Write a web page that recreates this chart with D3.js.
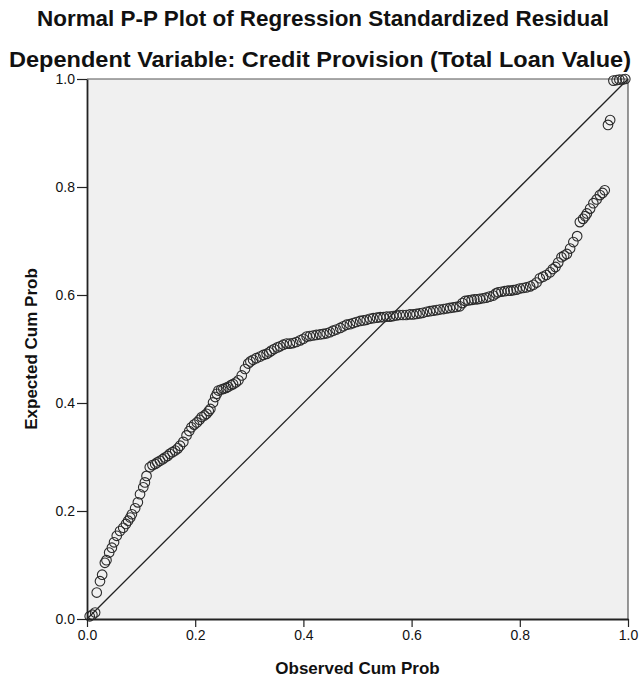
<!DOCTYPE html>
<html>
<head>
<meta charset="utf-8">
<script src="https://cdn.jsdelivr.net/npm/d3@7"></script>
<style>
  body { margin: 0; background: #fff; }
  text { font-family: "Liberation Sans", Arial, sans-serif; fill: #111; }
</style>
</head>
<body>
<div id="pp"></div>
<script>
// Titles
var titleMain = "Normal P-P Plot of Regression Standardized Residual";
var titleSub = "Dependent Variable: Credit Provision (Total Loan Value)";
var xTitle = "Observed Cum Prob";
var yTitle = "Expected Cum Prob";
var tickValues = [0, 0.2, 0.4, 0.6, 0.8, 1.0];

// Observed cum prob (x) and expected cum prob (y)
var observed = [0.005,0.010,0.015,0.018,0.024,0.028,0.033,0.036,0.041,0.046,0.050,0.055,0.061,0.067,0.072,0.076,0.080,0.083,0.089,0.094,
  0.098,0.104,0.107,0.110,0.116,0.121,0.126,0.130,0.135,0.140,0.144,0.149,0.153,0.158,0.163,0.168,0.172,0.178,0.184,0.189,
  0.193,0.198,0.203,0.208,0.212,0.217,0.221,0.225,0.228,0.233,0.237,0.240,0.243,0.248,0.252,0.257,0.261,0.266,0.270,0.275,
  0.280,0.286,0.292,0.298,0.302,0.307,0.313,0.320,0.326,0.332,0.337,0.341,0.346,0.352,0.357,0.363,0.369,0.375,0.381,0.387,
  0.394,0.400,0.406,0.412,0.418,0.424,0.431,0.437,0.443,0.449,0.455,0.461,0.468,0.474,0.480,0.486,0.492,0.498,0.505,0.511,
  0.517,0.523,0.529,0.536,0.542,0.548,0.554,0.560,0.566,0.572,0.578,0.584,0.590,0.597,0.603,0.609,0.615,0.621,0.628,0.634,
  0.640,0.646,0.652,0.659,0.665,0.671,0.677,0.683,0.689,0.694,0.699,0.705,0.711,0.716,0.721,0.726,0.732,0.738,0.744,0.751,
  0.756,0.760,0.766,0.772,0.778,0.783,0.788,0.794,0.800,0.806,0.812,0.819,0.825,0.831,0.837,0.843,0.849,0.856,0.861,0.866,
  0.871,0.877,0.882,0.887,0.893,0.899,0.906,0.911,0.917,0.921,0.924,0.930,0.936,0.942,0.948,0.953,0.957,0.963,0.967,0.973,
  0.979,0.984,0.990,0.995];
var expected = [0.005,0.008,0.012,0.049,0.070,0.082,0.104,0.109,0.123,0.132,0.142,0.154,0.163,0.169,0.176,0.182,0.188,0.194,0.205,0.216,
  0.231,0.244,0.253,0.265,0.281,0.285,0.287,0.290,0.293,0.296,0.299,0.302,0.306,0.309,0.312,0.316,0.321,0.328,0.340,0.348,
  0.355,0.360,0.364,0.369,0.374,0.377,0.380,0.385,0.389,0.401,0.411,0.417,0.423,0.425,0.426,0.428,0.430,0.433,0.435,0.438,
  0.442,0.451,0.463,0.473,0.477,0.480,0.483,0.486,0.489,0.491,0.494,0.497,0.500,0.503,0.505,0.508,0.510,0.510,0.511,0.513,
  0.516,0.519,0.523,0.524,0.525,0.526,0.527,0.528,0.529,0.531,0.534,0.536,0.539,0.542,0.545,0.546,0.548,0.550,0.552,0.553,
  0.554,0.556,0.557,0.558,0.559,0.559,0.560,0.560,0.561,0.562,0.563,0.563,0.563,0.564,0.564,0.565,0.566,0.567,0.569,0.570,
  0.571,0.572,0.573,0.574,0.575,0.576,0.577,0.578,0.579,0.585,0.589,0.590,0.591,0.592,0.592,0.593,0.594,0.595,0.597,0.599,
  0.603,0.605,0.606,0.607,0.608,0.608,0.609,0.610,0.612,0.613,0.614,0.616,0.619,0.623,0.631,0.634,0.637,0.642,0.648,0.652,
  0.660,0.670,0.673,0.676,0.686,0.698,0.709,0.735,0.741,0.746,0.751,0.760,0.770,0.777,0.785,0.789,0.794,0.915,0.924,0.997,
  0.998,0.999,0.999,1.000];

var margin = {top: 79, right: 12, bottom: 67, left: 87},
    width = 640 - margin.left - margin.right,
    height = 686 - margin.top - margin.bottom;

var root = d3.select("#pp").append("svg")
    .attr("width", 640)
    .attr("height", 686);

root.append("text")
    .attr("x", 323).attr("y", 26)
    .attr("text-anchor", "middle")
    .attr("textLength", 572).attr("lengthAdjust", "spacingAndGlyphs")
    .style("font-size", "22px").style("font-weight", "bold")
    .text(titleMain);

root.append("text")
    .attr("x", 320).attr("y", 67)
    .attr("text-anchor", "middle")
    .attr("textLength", 622).attr("lengthAdjust", "spacingAndGlyphs")
    .style("font-size", "22px").style("font-weight", "bold")
    .text(titleSub);

var svg = root.append("g")
    .attr("transform", "translate(" + margin.left + "," + margin.top + ")");

var x = d3.scaleLinear().domain([0, 1]).range([0, width]);
var y = d3.scaleLinear().domain([0, 1]).range([height, 0]);

svg.append("rect")
    .attr("width", width).attr("height", height)
    .attr("fill", "#f0f0f0");

// frame: top and right
svg.append("path")
    .attr("d", "M0,0H" + width + "V" + height)
    .attr("fill", "none").attr("stroke", "#555").attr("stroke-width", 1.2);

// reference diagonal
svg.append("line")
    .attr("x1", x(0)).attr("y1", y(0))
    .attr("x2", x(1)).attr("y2", y(1))
    .attr("stroke", "#222").attr("stroke-width", 1.3);

svg.append("g")
  .selectAll("circle")
  .data(observed)
  .enter()
  .append("circle")
    .attr("cx", function(d) { return x(d); })
    .attr("cy", function(d, i) { return y(expected[i]); })
    .attr("r", 4.8)
    .attr("fill", "none")
    .attr("stroke", "#2a2a2a")
    .attr("stroke-width", 1.1);

var fmt = d3.format(".1f");

var xAxis = svg.append("g")
    .attr("transform", "translate(0," + height + ")")
    .call(d3.axisBottom(x).tickValues(tickValues).tickFormat(fmt).tickSize(8).tickSizeOuter(0).tickPadding(3));

var yAxis = svg.append("g")
    .call(d3.axisLeft(y).tickValues(tickValues).tickFormat(fmt).tickSize(10).tickSizeOuter(0).tickPadding(2));

[xAxis, yAxis].forEach(function(a) {
  a.select(".domain").attr("stroke", "#222").attr("stroke-width", 1.8);
  a.selectAll(".tick line").attr("stroke", "#222").attr("stroke-width", 1.2);
  a.selectAll(".tick text")
      .style("font-family", "'Liberation Sans', Arial, sans-serif")
      .style("font-size", "14px").attr("fill", "#222");
});

root.append("text")
    .attr("x", margin.left + width / 2).attr("y", 674)
    .attr("text-anchor", "middle")
    .style("font-size", "17px").style("font-weight", "bold")
    .text(xTitle);

root.append("text")
    .attr("transform", "translate(37," + (margin.top + height / 2) + ") rotate(-90)")
    .attr("text-anchor", "middle")
    .style("font-size", "17px").style("font-weight", "bold")
    .text(yTitle);
</script>
</body>
</html>
